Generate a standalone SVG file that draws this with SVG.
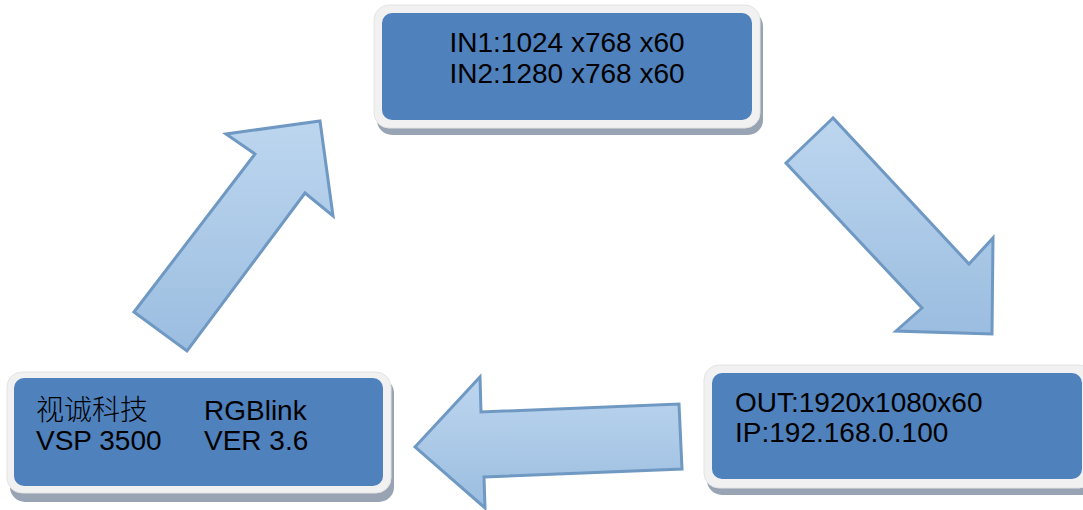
<svg xmlns="http://www.w3.org/2000/svg" width="1083" height="510" viewBox="0 0 1083 510">
<defs>
<linearGradient id="ag" x1="0" y1="0" x2="0" y2="1">
<stop offset="0" stop-color="#bdd6ef"/>
<stop offset="1" stop-color="#9bbde0"/>
</linearGradient>
<style>
.shadow{fill:#98a3b3}
.frame{fill:#f1f1f1;stroke:#e4e4e4;stroke-width:1}
.inner{fill:#4f81bd}
.arrow{fill:url(#ag);stroke:#6f99c3;stroke-width:3;stroke-linejoin:miter}
text{font-family:"Liberation Sans",Arial,"Noto Sans CJK SC",sans-serif;font-size:28px;fill:#000}
.cjk{font-weight:300}
</style>
</defs>
<rect width="1083" height="510" fill="#fff"/>
<g id="connectors">
<polygon class="arrow" points="134,312 187,351 305,193 333,216 320,121 226,134 255,154"/>
<polygon class="arrow" points="833,118 786,163 922,308 896,331 992,334 993,238 969,264"/>
<polygon class="arrow" points="415,447 480,377 481,412 679,404 682,469 484,477 485,508"/>
</g>
<g id="node-input">
<rect class="shadow" x="377" y="11" width="386" height="124" rx="15"/>
<rect class="frame" x="374" y="5" width="386" height="123" rx="15"/>
<rect class="inner" x="382" y="13" width="370" height="107" rx="10"/>
<text x="567" y="52" text-anchor="middle">IN1:1024 x768 x60</text>
<text x="567" y="83" text-anchor="middle">IN2:1280 x768 x60</text>
</g>
<g id="node-output">
<rect class="shadow" x="707" y="371" width="390" height="124" rx="15"/>
<rect class="frame" x="704" y="365" width="390" height="123" rx="15"/>
<rect class="inner" x="712" y="373" width="370" height="106" rx="10"/>
<text x="735" y="412">OUT:1920x1080x60</text>
<text x="735" y="442">IP:192.168.0.100</text>
</g>
<g id="node-device">
<rect class="shadow" x="10" y="378" width="384" height="124" rx="15"/>
<rect class="frame" x="7" y="372" width="384" height="121" rx="15"/>
<rect class="inner" x="14" y="378" width="369" height="108" rx="10"/>
<text class="cjk" x="36" y="420">视诚科技</text>
<text x="204" y="420">RGBlink</text>
<text x="36" y="450">VSP 3500</text>
<text x="204" y="450">VER 3.6</text>
</g>
</svg>
